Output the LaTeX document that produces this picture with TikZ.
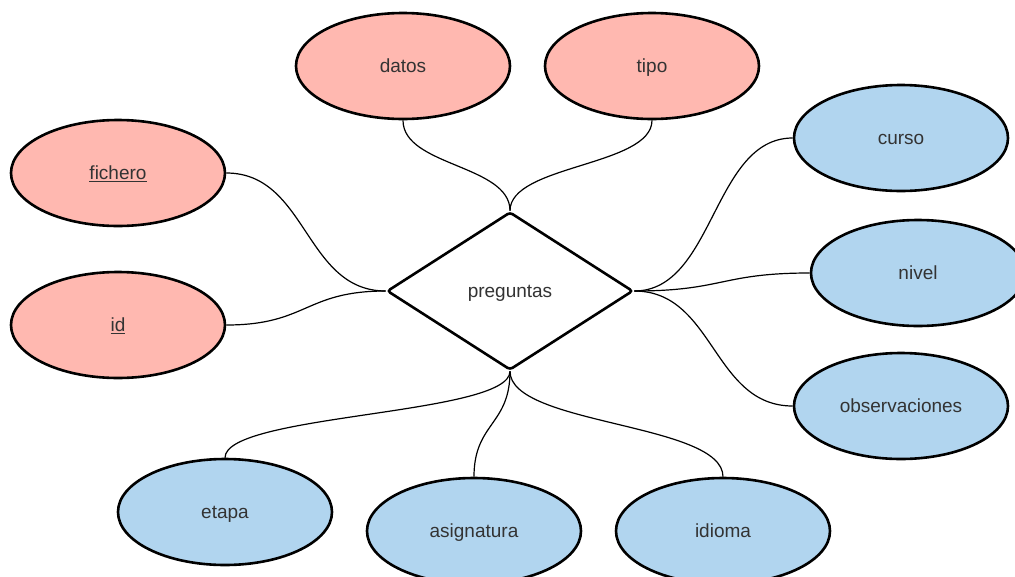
\documentclass[tikz,border=0pt]{standalone}
\usepackage{fontspec}
\setmainfont{Liberation Sans}
\usetikzlibrary{shapes.geometric}
\definecolor{attrpink}{HTML}{FFB8B0}
\definecolor{attrblue}{HTML}{B1D5EF}
\definecolor{txtgray}{HTML}{333333}
\begin{document}
\begin{tikzpicture}[x=1pt,y=1pt,
  every node/.style={font=\fontsize{19}{23}\selectfont, text=txtgray, text height=13.6pt, text depth=0pt},
  attr/.style={ellipse, draw=black, line width=2.6pt, minimum width=214pt, minimum height=106pt, inner sep=0pt},
  pinkattr/.style={attr, fill=attrpink},
  blueattr/.style={attr, fill=attrblue},
  rel/.style={diamond, draw=black, line width=2.6pt, fill=white, minimum width=246pt, minimum height=158pt, inner sep=0pt, rounded corners=3pt},
  link/.style={line width=1.2pt, draw=black}]
\clip (0,0) rectangle (1015,-576);
\fill[white] (0,0) rectangle (1015,-576);
% relationship
\node[rel] (preg) at (510,-291) {preguntas};
% attributes
\node[pinkattr] (datos) at (403,-66) {datos};
\node[pinkattr] (tipo) at (652,-66) {tipo};
\node[pinkattr] (fichero) at (118,-173) {\underline{fichero}};
\node[pinkattr] (id) at (118,-325) {\underline{id}};
\node[blueattr] (curso) at (901,-138) {curso};
\node[blueattr] (nivel) at (918,-273) {nivel};
\node[blueattr] (obs) at (901,-406) {observaciones};
\node[blueattr] (etapa) at (225,-512) {etapa};
\node[blueattr] (asig) at (474,-531) {asignatura};
\node[blueattr] (idioma) at (723,-531) {idioma};
% connectors
\draw[link] (preg.north) .. controls +(0,46) and +(0,-46) .. (datos.south);
\draw[link] (preg.north) .. controls +(0,46) and +(0,-46) .. (tipo.south);
\draw[link] (preg.west) .. controls +(-81,0) and +(81,0) .. (fichero.east);
\draw[link] (preg.west) .. controls +(-81,0) and +(81,0) .. (id.east);
\draw[link] (preg.east) .. controls +(80,0) and +(-80,0) .. (curso.west);
\draw[link] (preg.east) .. controls +(89,0) and +(-89,0) .. (nivel.west);
\draw[link] (preg.east) .. controls +(80,0) and +(-80,0) .. (obs.west);
\draw[link] (preg.south) .. controls +(0,-44) and +(0,44) .. (etapa.north);
\draw[link] (preg.south) .. controls +(0,-54) and +(0,54) .. (asig.north);
\draw[link] (preg.south) .. controls +(0,-54) and +(0,54) .. (idioma.north);
\end{tikzpicture}
\end{document}
